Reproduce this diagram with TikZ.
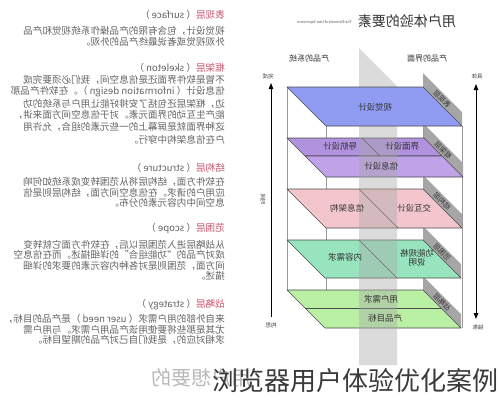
\documentclass[tikz,border=0pt]{standalone}
\usepackage{fontspec}
\setmainfont{Noto Sans CJK SC}
\usetikzlibrary{arrows.meta}
\definecolor{cSurf}{HTML}{8F9CF2}
\definecolor{cSkelA}{HTML}{B092DE}
\definecolor{cSkelB}{HTML}{BFA2E8}
\definecolor{cStru}{HTML}{F3C6CE}
\definecolor{cScop}{HTML}{98E4BE}
\definecolor{cStra}{HTML}{B9F0A4}
\definecolor{cStrip}{HTML}{A6A6A6}
\definecolor{cEdge}{HTML}{4A4A4A}
\definecolor{cVert}{HTML}{9A9A9A}
\definecolor{cHead}{HTML}{C9546E}
\definecolor{cBody}{HTML}{646464}
\definecolor{cCap}{HTML}{3A3A3A}
\begin{document}
\begin{tikzpicture}[x=1pt,y=-1pt,
  mir/.style={xscale=-1, inner sep=0pt},
  plane/.style={draw=cEdge, line width=0.7pt, line join=round},
  vline/.style={draw=cVert, line width=0.6pt},
  strip/.style={fill=cStrip},
  axis/.style={draw=black, line width=0.9pt},
  body/.style={mir, anchor=west, text=cBody, font=\fontsize{9.6}{10}\selectfont},
  head/.style={mir, anchor=west, text=cBody, font=\fontsize{9.6}{10}\selectfont},
  plabel/.style={mir, text=black!80, font=\fontsize{8.5}{9.5}\selectfont, align=center},
  slabel/.style={mir, rotate=45, text=black!80, font=\fontsize{7}{8}\selectfont},
  alabel/.style={mir, text=black!75, font=\fontsize{5.5}{6}\selectfont},
  toplabel/.style={mir, text=black!80, font=\fontsize{8}{9}\selectfont}]
\useasboundingbox (0,0) rectangle (499,400);
\fill[white] (0,0) rectangle (499,400);

% ---------- left text column (mirrored) ----------
\node[head] (h1) at (225,15) {{\color{cHead}表现层}（ surface ）};
\foreach \yy/\tt [count=\i] in {31/视觉设计，包含有限的产品操作系统视觉和产品,
  41.6/外观视觉或者说最终产品的外观。}
  {\node[body] (a\i) at (225,\yy) {\tt};}
\node[head] (h2) at (225,68) {{\color{cHead}框架层}（ skeleton ）};
\foreach \yy/\tt [count=\i] in {80/不管是软件界面还是信息空间，我们必须要完成,
  91.8/信息设计（ information design ）。在软件产品那,
  103.6/边，框架层还包括了安排好能让用户与系统的功,
  115.4/能产生互动的界面元素。对于信息空间方面来讲，,
  127.2/这种界面就是屏幕上的一些元素的组合，允许用,
  139.5/户在信息架构中穿行。}
  {\node[body] (b\i) at (225,\yy) {\tt};}
\node[head] (h3) at (225,168) {{\color{cHead}结构层}（ structure ）};
\foreach \yy/\tt [count=\i] in {182/在软件方面，结构层将从范围转变成系统如何响,
  192.5/应用户的请求。在信息空间方面，结构层则是信,
  203/息空间中内容元素的分布。}
  {\node[body] (c\i) at (225,\yy) {\tt};}
\node[head] (h4) at (225,228) {{\color{cHead}范围层}（ scope ）};
\foreach \yy/\tt [count=\i] in {244.5/从战略层进入范围层以后，在软件方面它就转变,
  255/成对产品的“功能组合”的详细描述。而在信息空,
  265.5/间方面，范围则是对各种内容元素的要求的详细,
  276/描述。}
  {\node[body] (d\i) at (225,\yy) {\tt};}
\node[head] (h5) at (225,305) {{\color{cHead}战略层}（ strategy ）};
\foreach \yy/\tt [count=\i] in {319/来自外部的用户需求（ user need ）是产品的目标，,
  329.5/尤其是那些将要使用该产品用户需求。与用户需,
  340/求相对应的，是我们自己对产品的期望目标。}
  {\node[body] (e\i) at (225,\yy) {\tt};}
\node[mir, anchor=west, text=black!28, font=\fontsize{20}{22}\selectfont] (want) at (252,378) {用户想要的};

% ---------- title ----------
\node[mir, anchor=west, text=black!80, font=\fontsize{14}{16}\selectfont] (title) at (456,21) {用户体验的要素};
\node[mir, anchor=west, text=black!70, font=\fontsize{3.6}{4}\selectfont] (etitle) at (352,22) {The Elements of User Experience};
\node[toplabel] (sys) at (309,58) {产品的系统};
\node[toplabel] (ifc) at (427,58) {产品的界面};

% ---------- vertical frame lines ----------
\draw[vline] (287,87) -- (287,290);
\draw[vline] (326,126) -- (326,328);
\draw[vline] (423,87) -- (423,290);
\draw[vline] (462,126) -- (462,328);

% ---------- label strips ----------
\fill[strip] (423,73) -- (462,112) -- (462,126) -- (423,87) -- cycle;
\fill[strip] (424,124) -- (463,163) -- (463,177) -- (424,138) -- cycle;
\fill[strip] (423,175) -- (462,214) -- (462,228) -- (423,189) -- cycle;
\fill[strip] (423,226) -- (461,264) -- (461,278) -- (423,240) -- cycle;
\fill[strip] (423,276) -- (461,314) -- (461,328) -- (423,290) -- cycle;

% ---------- planes ----------
\filldraw[plane, fill=cSkelA] (287,138) -- (362,138) -- (380,156) -- (305,156) -- cycle;
\filldraw[plane, fill=cSkelA] (362,138) -- (424,138) -- (442,156) -- (380,156) -- cycle;
\filldraw[plane, fill=cSkelB] (305,156) -- (442,156) -- (463,177) -- (326,177) -- cycle;
\filldraw[plane, fill=cStru] (287,189) -- (423,189) -- (462,228) -- (326,228) -- cycle;
\draw[plane] (359,189) -- (398,228);
\filldraw[plane, fill=cScop] (287,240) -- (423,240) -- (461,278) -- (325,278) -- cycle;
\draw[plane] (359,240) -- (397,278);
\filldraw[plane, fill=cStra] (287,290) -- (423,290) -- (461,328) -- (325,328) -- cycle;
\draw[plane] (305,308) -- (441,308);

% ---------- centre band ----------
\fill[gray!70, opacity=0.4] (359,48) -- (397,86) -- (397,365) -- (359,365) -- cycle;

% surface
\filldraw[plane, fill=cSurf] (287,87) -- (423,87) -- (462,126) -- (326,126) -- cycle;

% ---------- plane labels ----------
\node[plabel] (p1) at (375,107) {视觉设计};
\node[plabel] (p2) at (340,146) {导航设计};
\node[plabel] (p3) at (402,146) {界面设计};
\node[plabel] (p4) at (381,166) {信息设计};
\node[plabel] (p5) at (347,208) {信息架构};
\node[plabel] (p6) at (414,208) {交互设计};
\node[plabel] (p7) at (345,257) {内容需求};
\node[plabel] (p8) at (417,258) {功能规格\\说明};
\node[plabel] (p9) at (381,299) {用户需求};
\node[plabel] (p10) at (385,318) {产品目标};

% ---------- strip labels ----------
\node[slabel] (s1) at (442,99) {表现层};
\node[slabel] (s2) at (443,150) {框架层};
\node[slabel] (s3) at (442,201) {结构层};
\node[slabel] (s4) at (442,252) {范围层};
\node[slabel] (s5) at (442,302) {战略层};

% ---------- axes ----------
\coordinate (la) at (271,317);
\coordinate (lb) at (271,83);
\coordinate (ra) at (476,84);
\coordinate (rb) at (476,319);
\draw[axis, -{Triangle[length=6pt,width=4.5pt]}] (la) -- (lb);
\draw[axis, {Triangle[length=6pt,width=4.5pt]}-{Triangle[length=6pt,width=4.5pt]}] (ra) -- (rb);
\node[alabel] (t1) at (268,76) {完成};
\node[alabel] (t2) at (477,76) {具体};
\node[alabel] (t3) at (271,325) {构思};
\node[alabel] (t4) at (478,327) {抽象};
\node[alabel, rotate=90] (t5) at (263,199) {时间};

% ---------- caption ----------
\node[anchor=base east, text=cCap, font=\fontsize{26}{28}\selectfont, inner sep=0pt] (cap) at (499,390) {浏览器用户体验优化案例};
\end{tikzpicture}
\end{document}
